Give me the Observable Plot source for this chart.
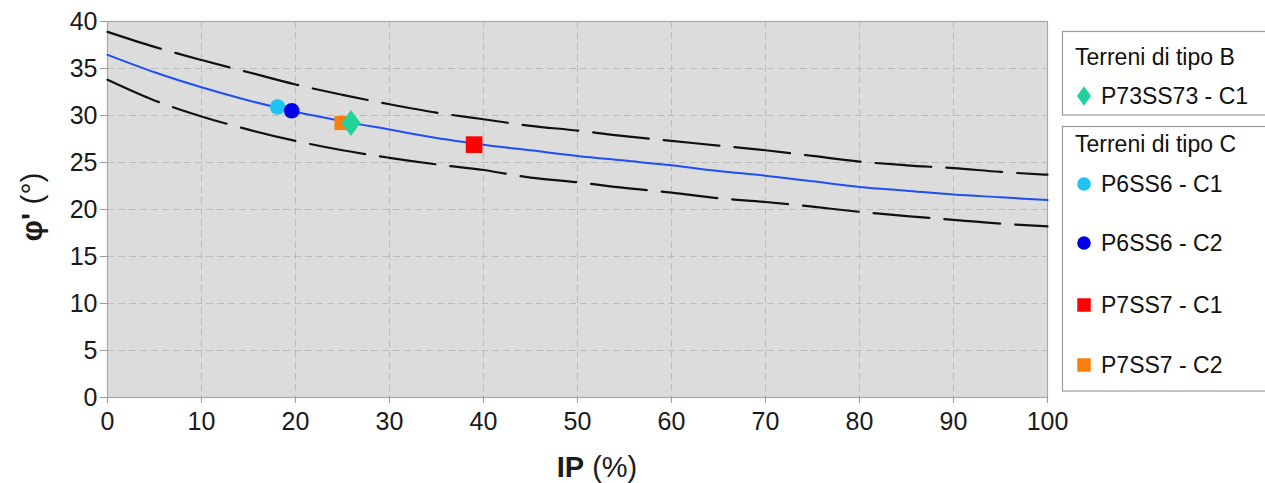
<!DOCTYPE html>
<html>
<head>
<meta charset="utf-8">
<script src="https://cdn.jsdelivr.net/npm/d3@7"></script>
<script src="https://cdn.jsdelivr.net/npm/@observablehq/plot@0.6"></script>
<style>
  html, body { margin: 0; padding: 0; background: #fff; overflow: hidden; }
  #wrap { position: relative; width: 1265px; height: 483px; }
  #wrap > svg { position: absolute; top: 0; display: block; }
  svg text { font-family: "Liberation Sans", Arial, sans-serif; }
</style>
</head>
<body>
<div id="wrap"></div>
<script>
// Indice di plasticità (%) at which the reference curves are sampled
const ip = [0, 5, 10, 15, 20, 25, 30, 35, 40, 45, 50, 55, 60, 65, 70, 75, 80, 85, 90, 95, 100];

// Angolo di attrito φ' (°): mean curve and upper / lower bounds
const phiMedia = [36.45, 34.6, 33.0, 31.6, 30.4, 29.4, 28.5, 27.6, 26.9, 26.3, 25.7, 25.2, 24.7, 24.1, 23.6, 23.0, 22.4, 22.0, 21.6, 21.3, 21.0];
const phiSup   = [38.9, 37.3, 35.9, 34.6, 33.3, 32.2, 31.2, 30.3, 29.6, 28.9, 28.4, 27.8, 27.3, 26.8, 26.3, 25.7, 25.1, 24.7, 24.4, 24.0, 23.7];
const phiInf   = [33.8, 31.6, 29.9, 28.5, 27.3, 26.3, 25.5, 24.8, 24.2, 23.4, 22.9, 22.3, 21.8, 21.2, 20.8, 20.3, 19.75, 19.3, 18.9, 18.5, 18.2];

// Campioni di laboratorio
const campioni    = ["P73SS73 - C1", "P6SS6 - C1", "P6SS6 - C2", "P7SS7 - C1", "P7SS7 - C2"];
const tipoTerreno = ["B", "C", "C", "C", "C"];
const ipCampioni  = [25.9, 18.1, 19.6, 39.0, 24.9];
const phiCampioni = [29.2, 30.9, 30.5, 26.9, 29.2];

// Axis ticks
const xTicks = [0, 10, 20, 30, 40, 50, 60, 70, 80, 90, 100];
const yTicks = [0, 5, 10, 15, 20, 25, 30, 35, 40];

// Marker styling per sample
const rombo = {
  draw(ctx, size) {
    const h = Math.sqrt(size / 1.46), w = 0.73 * h;
    ctx.moveTo(0, -h); ctx.lineTo(w, 0); ctx.lineTo(0, h); ctx.lineTo(-w, 0); ctx.closePath();
  }
};
const stile = {
  "P73SS73 - C1": {fill: "#21d39b", symbol: rombo, r: 8.9, legendR: 6.6},
  "P6SS6 - C1":   {fill: "#1ec3f4", symbol: "circle", r: 7.8, legendR: 6.8},
  "P6SS6 - C2":   {fill: "#0000e6", symbol: "circle", r: 7.8, legendR: 6.8},
  "P7SS7 - C1":   {fill: "#ff0000", symbol: "square", r: 9.4, legendR: 7.6},
  "P7SS7 - C2":   {fill: "#fb7d0c", symbol: "square", r: 8.0, legendR: 7.6}
};
const ordine = ["P6SS6 - C1", "P6SS6 - C2", "P7SS7 - C2", "P73SS73 - C1", "P7SS7 - C1"];

const curva = (ys) => ip.map((x, i) => ({ip: x, phi: ys[i]}));
const campioniDati = campioni.map((c, i) => ({nome: c, tipo: tipoTerreno[i], ip: ipCampioni[i], phi: phiCampioni[i]}));

const FONT = "Liberation Sans, Arial, sans-serif";

const chart = Plot.plot({
  width: 1085,
  height: 483,
  marginLeft: 107,
  marginRight: 38,
  marginTop: 21,
  marginBottom: 86,
  style: {fontFamily: FONT, fontSize: "25px", color: "#1a1a1a", background: "transparent"},
  x: {domain: [0, 100], label: null},
  y: {domain: [0, 40], label: null},
  marks: [
    Plot.frame({fill: "#dcdcdc", stroke: null}),
    Plot.gridX(xTicks, {stroke: "#bcbcbc", strokeOpacity: 1, strokeDasharray: "7,4"}),
    Plot.gridY(yTicks, {stroke: "#bcbcbc", strokeOpacity: 1, strokeDasharray: "7,4"}),
    Plot.frame({stroke: "#a8a8a8", strokeWidth: 1.2}),
    Plot.axisX({ticks: xTicks, tickSize: 6, tickPadding: 9, stroke: "#9a9a9a", fill: "#1a1a1a", fontSize: 25}),
    Plot.axisY({ticks: yTicks, tickSize: 7, tickPadding: 3, stroke: "#9a9a9a", fill: "#1a1a1a", fontSize: 25}),
    Plot.line(curva(phiSup), {x: "ip", y: "phi", stroke: "#111", strokeWidth: 2.2, strokeDasharray: "56,15", curve: "monotone-x"}),
    Plot.line(curva(phiInf), {x: "ip", y: "phi", stroke: "#111", strokeWidth: 2.2, strokeDasharray: "56,15", curve: "monotone-x"}),
    Plot.line(curva(phiMedia), {x: "ip", y: "phi", stroke: "#1f4ff2", strokeWidth: 2, curve: "monotone-x"}),
    ...ordine.map((nome) => {
      const s = stile[nome];
      return Plot.dot(campioniDati.filter((d) => d.nome === nome), {
        x: "ip", y: "phi", fill: s.fill, stroke: null, symbol: s.symbol, r: s.r
      });
    })
  ]
});

// Axis titles with mixed bold / regular parts
const svg = d3.select(chart);
const xt = svg.append("text")
  .attr("x", 597).attr("y", 477)
  .attr("text-anchor", "middle")
  .attr("font-size", 29)
  .attr("fill", "#1a1a1a");
xt.append("tspan").attr("font-weight", "bold").text("IP");
xt.append("tspan").text(" (%)");

const yt = svg.append("text")
  .attr("transform", "translate(42,207) rotate(-90)")
  .attr("text-anchor", "middle")
  .attr("font-size", 30)
  .attr("fill", "#1a1a1a");
yt.append("tspan").attr("font-weight", "bold").text("φ'");
yt.append("tspan").text(" (°)");

chart.style.left = "0px";
document.getElementById("wrap").appendChild(chart);

// Legend grouped by soil type
const OX = 1055;
const leg = d3.select("#wrap").append("svg")
  .attr("width", 1265 - OX).attr("height", 483)
  .style("left", OX + "px");

const gruppi = [
  {tipo: "B", titolo: "Terreni di tipo B", box: [31.5, 115], titoloY: 65, voci: [{nome: "P73SS73 - C1", y: 96}]},
  {tipo: "C", titolo: "Terreni di tipo C", box: [126.5, 391], titoloY: 152, voci: [
    {nome: "P6SS6 - C1", y: 184},
    {nome: "P6SS6 - C2", y: 243},
    {nome: "P7SS7 - C1", y: 305},
    {nome: "P7SS7 - C2", y: 365}
  ]}
];

for (const g of gruppi) {
  leg.append("rect")
    .attr("x", 1062.5 - OX).attr("y", g.box[0])
    .attr("width", 300).attr("height", g.box[1] - g.box[0])
    .attr("fill", "#fff").attr("stroke", "#9c9c9c").attr("stroke-width", 1.2);
  leg.append("text")
    .attr("x", 1075 - OX).attr("y", g.titoloY)
    .attr("font-size", 23).attr("fill", "#111")
    .text(g.titolo);
  for (const v of g.voci) {
    const s = stile[v.nome];
    const size = Math.PI * s.legendR * s.legendR;
    const sym = s.symbol === "circle" ? d3.symbolCircle : s.symbol === "square" ? d3.symbolSquare : s.symbol;
    leg.append("path")
      .attr("transform", `translate(${1084 - OX},${v.y})`)
      .attr("d", d3.symbol(sym, size)())
      .attr("fill", s.fill);
    leg.append("text")
      .attr("x", 1101 - OX).attr("y", v.y + 8)
      .attr("font-size", 23).attr("fill", "#111")
      .text(v.nome);
  }
}
</script>
</body>
</html>
